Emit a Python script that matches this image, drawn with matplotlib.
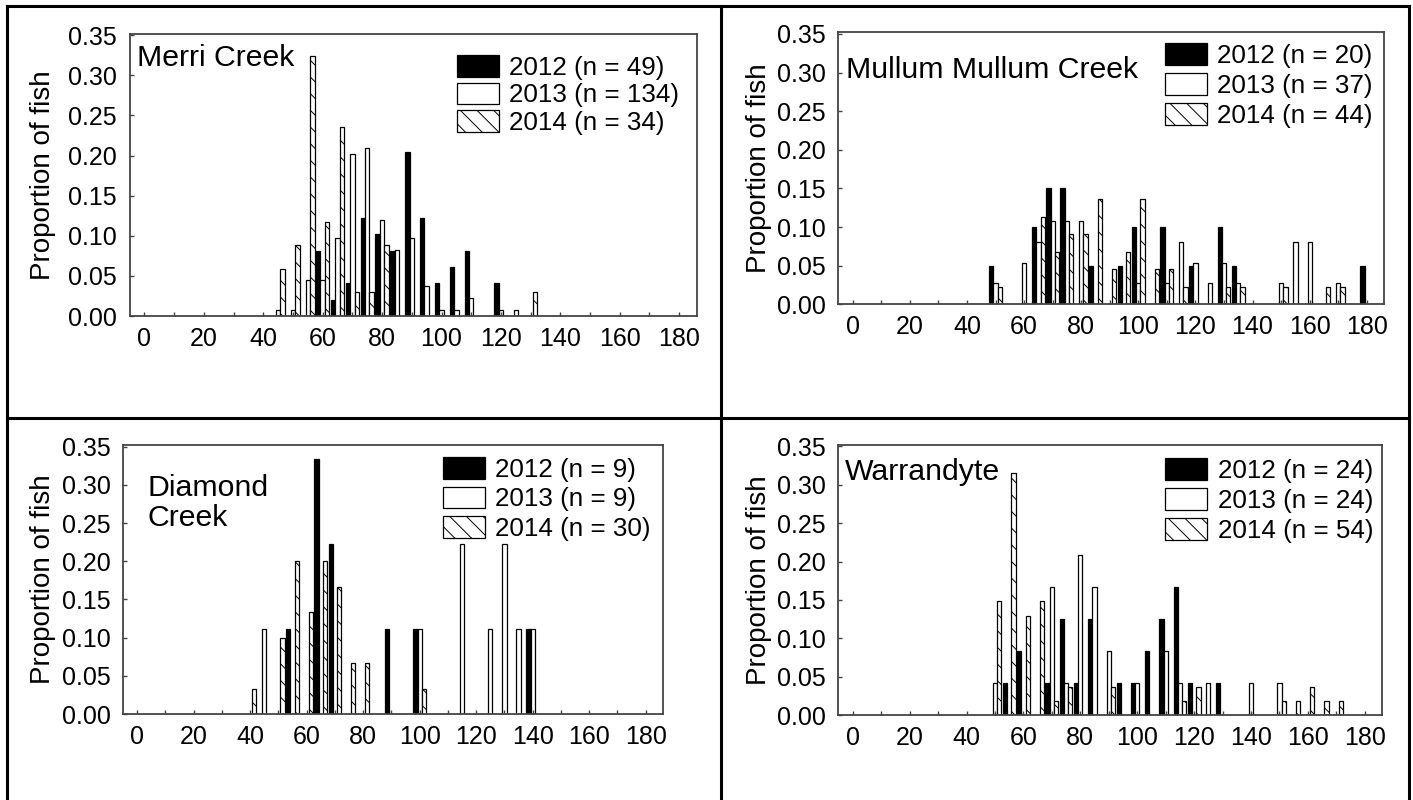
import matplotlib
matplotlib.use('Agg')
import matplotlib.pyplot as plt
from matplotlib.patches import Patch
from matplotlib.lines import Line2D
import numpy as np

plt.rcParams['font.family'] = ['Liberation Sans', 'DejaVu Sans']
plt.rcParams['hatch.linewidth'] = 0.7

years = ['2012', '2013', '2014']

# counts of fish per 5 mm length class
merri_n = [49, 134, 34]
merri_2012 = {60: 4, 65: 1, 70: 2, 75: 6, 80: 5, 85: 4, 90: 10, 95: 6, 100: 2, 105: 3, 110: 4, 120: 2}
merri_2013 = {45: 1, 50: 1, 55: 6, 60: 6, 65: 13, 70: 27, 75: 28, 80: 16, 85: 11, 90: 13, 95: 5,
              100: 1, 105: 1, 110: 3, 120: 1, 125: 1}
merri_2014 = {45: 2, 50: 3, 55: 11, 60: 4, 65: 8, 70: 1, 75: 1, 80: 3, 130: 1}

mullum_n = [20, 37, 44]
mullum_2012 = {50: 1, 65: 2, 70: 3, 75: 3, 85: 1, 95: 1, 100: 2, 110: 2, 120: 1, 130: 2, 135: 1, 180: 1}
mullum_2013 = {50: 1, 60: 2, 65: 3, 70: 4, 75: 4, 80: 4, 100: 1, 110: 1, 115: 3, 120: 2, 125: 1,
               130: 2, 135: 1, 150: 1, 155: 3, 160: 3, 170: 1}
mullum_2014 = {50: 1, 65: 5, 70: 3, 75: 4, 80: 4, 85: 6, 90: 2, 95: 3, 100: 6, 105: 2, 110: 2,
               115: 1, 130: 1, 135: 1, 150: 1, 165: 1, 170: 1}

diamond_n = [9, 9, 30]
diamond_2012 = {55: 1, 65: 3, 70: 2, 90: 1, 100: 1, 140: 1}
diamond_2013 = {45: 1, 100: 1, 115: 2, 125: 1, 130: 2, 135: 1, 140: 1}
diamond_2014 = {40: 1, 50: 3, 55: 6, 60: 4, 65: 6, 70: 5, 75: 2, 80: 2, 100: 1}

warr_n = [24, 24, 54]
warr_2012 = {55: 1, 60: 2, 70: 1, 75: 3, 80: 1, 85: 3, 95: 1, 100: 1, 105: 2, 110: 3, 115: 4,
             120: 1, 130: 1}
warr_2013 = {50: 1, 70: 4, 75: 1, 80: 5, 85: 4, 90: 2, 100: 1, 110: 2, 115: 1, 125: 1, 140: 1, 150: 1}
warr_2014 = {50: 8, 55: 17, 60: 7, 65: 8, 70: 1, 75: 2, 90: 2, 115: 1, 120: 2, 150: 1, 155: 1,
             160: 2, 165: 1, 170: 1}

# name, series, n, axes rect, title pos, legend pos, legend row spacing, ylabel centre (px)
panels = [
    ('Merri Creek', [merri_2012, merri_2013, merri_2014], merri_n,
     [0.0917, 0.605, 0.4016, 0.353], (0.013, 0.913), (0.577, 0.924), 0.1, 45),
    ('Mullum Mullum Creek', [mullum_2012, mullum_2013, mullum_2014], mullum_n,
     [0.5934, 0.6196, 0.386, 0.340], (0.014, 0.86), (0.598, 0.96), 0.19, 760),
    ('Diamond\nCreek', [diamond_2012, diamond_2013, diamond_2014], diamond_n,
     [0.087, 0.1075, 0.382, 0.336], (0.045, 0.785), (0.593, 0.957), 0.19, 45),
    ('Warrandyte', [warr_2012, warr_2013, warr_2014], warr_n,
     [0.5934, 0.106, 0.3846, 0.338], (0.012, 0.90), (0.601, 0.95), 0.19, 760),
]

faces = ['black', 'white', 'white']
hatches = [None, None, '\\\\']
offsets = [-1.5, 0.0, 1.5]
bar_w = 1.5

W, H = 1413.0, 800.0
fig = plt.figure(figsize=(14.13, 8), dpi=100)

for name, series, ns, rect, title_pos, leg_pos, leg_sp, ylab_x in panels:
    ax = fig.add_axes(rect)
    handles = []
    for k in range(3):
        lengths = np.array(list(series[k].keys()), dtype=float)
        props = np.array(list(series[k].values()), dtype=float) / ns[k]
        ax.bar(lengths + offsets[k], props, width=bar_w, color=faces[k], edgecolor='black',
               linewidth=0.9, hatch=hatches[k])
        handles.append(Patch(facecolor=faces[k], edgecolor='black', linewidth=0.9, hatch=hatches[k]))
    labels = ['%s (n = %d)' % (years[k], ns[k]) for k in range(3)]
    ax.legend(handles, labels, loc='upper left', bbox_to_anchor=leg_pos, frameon=False,
              fontsize=18.7, handlelength=1.62, handleheight=0.92, handletextpad=0.4,
              labelspacing=leg_sp, borderpad=0, borderaxespad=0)
    ax.text(title_pos[0], title_pos[1], name, transform=ax.transAxes, fontsize=21.8,
            ha='left', va='center', linespacing=1.05)
    ax.set_xlim(-5, 186)
    ax.set_ylim(0, 0.352)
    ax.set_xticks(np.arange(0, 181, 20))
    ax.set_xticks(np.arange(10, 181, 20), minor=True)
    ax.set_yticks(np.arange(0, 0.351, 0.05))
    ax.yaxis.set_major_formatter(plt.FormatStrFormatter('%.2f'))
    ax.tick_params(which='both', direction='in', length=3, width=1, colors='#444444',
                   labelcolor='black', labelsize=18, pad=8)
    ax.tick_params(axis='y', pad=9)
    ax.set_ylabel('Proportion of fish', fontsize=20)
    ax.yaxis.set_label_coords((ylab_x + 11.5 - rect[0] * W) / (rect[2] * W), 0.5)
    for sp in ax.spines.values():
        sp.set_color('#444444')
        sp.set_linewidth(1.3)

# table grid around the four panels
for x0, y0, x1, y1 in [(7, 6, 1409, 6), (7, 6, 7, 800), (1409, 6, 1409, 800),
                       (721, 6, 721, 800), (7, 417.5, 1409, 417.5)]:
    fig.add_artist(Line2D([x0 / W, x1 / W], [1 - y0 / H, 1 - y1 / H], color='black',
                          linewidth=2.2, transform=fig.transFigure))

fig.savefig('out.png', dpi=100)
